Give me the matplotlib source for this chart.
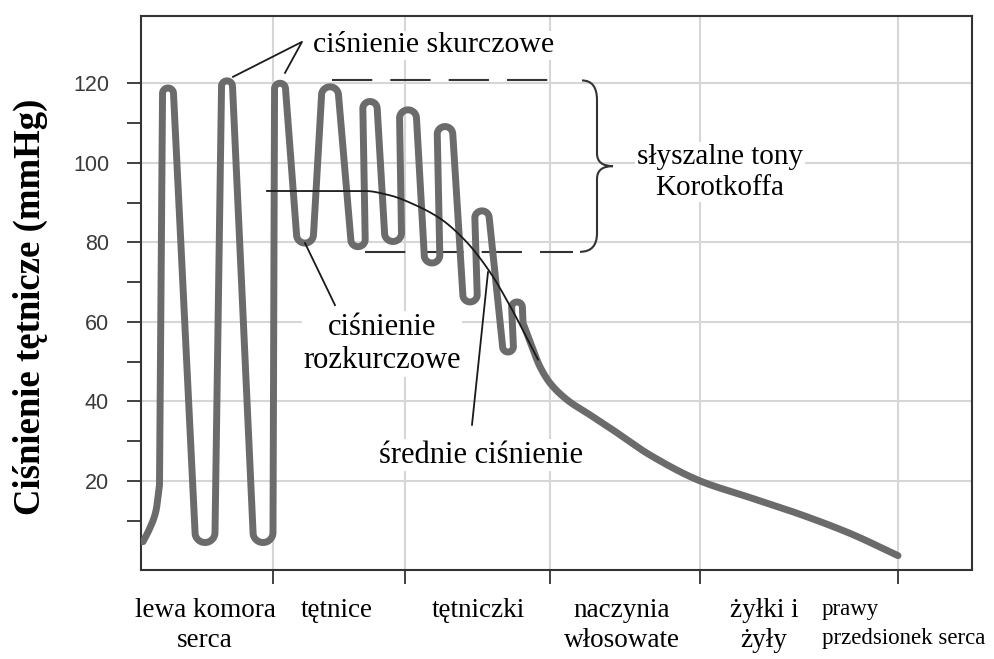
import numpy as np
import matplotlib.pyplot as plt
from matplotlib.path import Path
from matplotlib.patches import PathPatch

plt.rcParams['font.family'] = ['Liberation Serif', 'DejaVu Serif']
plt.rcParams['lines.scale_dashes'] = False

# przebieg ciśnienia wzdłuż układu krążenia (x - położenie, jednostki umowne)
wave_x = [2, 9, 15, 18.5, 27, 64, 86, 122, 139, 164, 189, 217, 229, 252,
          267, 291, 304, 329, 341, 367, 376, 382, 391, 399, 409, 426, 449,
          469, 509, 559, 609, 659, 709, 757]
wave_y = [4.7, 8.2, 12.5, 19, 118.8, 4.5, 120.6, 4.5, 120.0, 79.8, 119.1,
          78.9, 115.4, 80.2, 113.3, 74.8, 109.1, 65, 87.9, 52.4, 65, 59.7,
          53.7, 48.7, 44.6, 40.4, 36.6, 33.3, 26.5, 20, 15.8, 11.6, 6.8, 1.2]

# średnie ciśnienie
mean_x = [126, 224, 249, 274, 299, 324, 349, 369, 397]
mean_y = [92.9, 92.9, 91.8, 89.4, 86, 80.5, 72.5, 64, 50.5]

# granice odcinków układu krążenia
section_bounds = [132, 264, 409, 559, 757]
section_labels = ['lewa komora\nserca', 'tętnice', 'tętniczki',
                  'naczynia\nwłosowate', 'żyłki i\nżyły']
section_label_x = [64, 196, 337, 481, 623]

# zakres tonów Korotkoffa
korotkoff_top = 120.7
korotkoff_bottom = 77.6


def pchip(x, y, xs):
    x = np.asarray(x, float)
    y = np.asarray(y, float)
    h = np.diff(x)
    d = np.diff(y) / h
    m = np.zeros_like(y)
    for k in range(1, len(x) - 1):
        if d[k - 1] * d[k] > 0:
            w1 = 2 * h[k] + h[k - 1]
            w2 = h[k] + 2 * h[k - 1]
            m[k] = (w1 + w2) / (w1 / d[k - 1] + w2 / d[k])
    m[0] = d[0]
    m[-1] = d[-1]
    i = np.clip(np.searchsorted(x, xs) - 1, 0, len(h) - 1)
    t = (xs - x[i]) / h[i]
    h00 = 2 * t**3 - 3 * t**2 + 1
    h10 = t**3 - 2 * t**2 + t
    h01 = -2 * t**3 + 3 * t**2
    h11 = t**3 - t**2
    return h00 * y[i] + h10 * h[i] * m[i] + h01 * y[i + 1] + h11 * h[i] * m[i + 1]


def rounded_wave(ax, x, y, r_max=8.5, r_deep=10.0, r_tall=5.5):
    """Krzywa przez punkty: w ekstremach łuki o poziomej stycznej,
    między ekstremami odcinki styczne, pozostałe punkty łączy PCHIP."""
    x = np.asarray(x, float)
    y = np.asarray(y, float)
    pts = ax.transData.transform(np.column_stack([x, y]))
    n = len(pts)
    sign = np.zeros(n)
    for i in range(1, n - 1):
        if y[i] > y[i - 1] and y[i] > y[i + 1]:
            sign[i] = 1
        elif y[i] < y[i - 1] and y[i] < y[i + 1]:
            sign[i] = -1
    k = np.zeros(n)
    for i in range(1, n - 1):
        if sign[i] == 0:
            continue
        cap = r_deep if y[i] < 10 else r_max
        gaps = [abs(pts[i, 0] - pts[j, 0]) for j in (i - 1, i + 1) if sign[j] != 0]
        r = min(cap, 0.6 * min(gaps)) if gaps else cap
        swing = max(abs(y[i] - y[i - 1]), abs(y[i] - y[i + 1]))
        if sign[i] > 0 and swing > 90:
            r = min(r, r_tall)
        k[i] = sign[i] * r
    c = pts.copy()
    c[:, 1] -= k

    normals = []
    for i in range(n - 1):
        v = c[i + 1] - c[i]
        d = np.hypot(*v)
        a = np.arctan2(v[1], v[0])
        th = a + np.arccos(np.clip((k[i] - k[i + 1]) / d, -1, 1))
        normals.append(np.array([np.cos(th), np.sin(th)]))

    # ciągi punktów bez zaokrąglenia -> gładka interpolacja
    runs = {}
    i = 0
    while i < n:
        if k[i] == 0:
            j = i
            while j + 1 < n and k[j + 1] == 0:
                j += 1
            for m in range(i, j):
                runs[m] = (i, j)
            i = j + 1
        else:
            i += 1

    out = [pts[0]]
    for i in range(n - 1):
        nv = normals[i]
        if i > 0 and k[i] != 0:
            n_in = normals[i - 1]
            if k[i] > 0:
                p0, p1 = np.arctan2(n_in[1], n_in[0]), np.arctan2(nv[1], nv[0])
                while p1 > p0:
                    p1 -= 2 * np.pi
            else:
                p0, p1 = np.arctan2(-n_in[1], -n_in[0]), np.arctan2(-nv[1], -nv[0])
                while p1 < p0:
                    p1 += 2 * np.pi
            phi = np.linspace(p0, p1, 24)
            out.extend(c[i] + abs(k[i]) * np.column_stack([np.cos(phi), np.sin(phi)]))
        if i in runs:
            a, b = runs[i]
            xs = np.linspace(x[i], x[i + 1], 16)[1:]
            ys = pchip(x[a:b + 1], y[a:b + 1], xs)
            out.extend(ax.transData.transform(np.column_stack([xs, ys])))
        else:
            out.append(c[i] + k[i] * nv)
            out.append(c[i + 1] + k[i + 1] * nv)
    return ax.transData.inverted().transform(np.array(out))


fig = plt.figure(figsize=(9.95, 6.59), dpi=100)
ax = fig.add_axes([0.1417, 0.1351, 0.8352, 0.840])
ax.set_xlim(0, 831)
ax.set_ylim(-2.4, 136.8)

# siatka i osie
ax.set_axisbelow(True)
ax.set_yticks([20, 40, 60, 80, 100, 120])
ax.set_yticks(np.arange(10, 120, 20), minor=True)
ax.set_xticks(section_bounds)
ax.set_xticklabels([])
ax.grid(True, which='major', color='#d6d6d6', lw=1.5)
for s in ax.spines.values():
    s.set_color('#333333')
    s.set_linewidth(1.5)
ax.tick_params(axis='y', which='both', direction='out', length=10, width=1.3,
               color='#333333', pad=13)
ax.tick_params(axis='x', direction='out', length=10, width=1.3, color='#333333')
for lab in ax.get_yticklabels():
    lab.set_fontfamily('Liberation Sans')
    lab.set_fontsize(15.5)
    lab.set_color('#3a3a3a')

ax.set_ylabel('Ciśnienie tętnicze (mmHg)', fontsize=26.5, fontweight='bold')
ax.yaxis.set_label_coords(-0.112, 0.475)

# krzywa ciśnienia
wave = rounded_wave(ax, wave_x, wave_y)
ax.plot(wave[:, 0], wave[:, 1], color='#6b6b6b', lw=5,
        solid_capstyle='round', solid_joinstyle='round', zorder=4)

xm = np.linspace(mean_x[0], mean_x[-1], 600)
ax.plot(xm, pchip(mean_x, mean_y, xm), color='#1a1a1a', lw=1.3, zorder=5)

# nawias tonów Korotkoffa
dash = (0, (29, 13))
ax.plot([191, 416], [korotkoff_top] * 2, color='#333333', lw=1.5, ls=dash, zorder=3)
ax.plot([224, 432], [korotkoff_bottom] * 2, color='#333333', lw=1.5, ls=dash, zorder=3)
mid = (korotkoff_top + korotkoff_bottom) / 2
brace = Path(
    [(441, korotkoff_top), (456, korotkoff_top), (456, korotkoff_top - 5),
     (456, mid + 3.2),
     (456, mid), (472, mid),
     (456, mid), (456, mid - 3.2),
     (456, korotkoff_bottom + 4.7),
     (456, korotkoff_bottom), (439, korotkoff_bottom)],
    [Path.MOVETO, Path.CURVE3, Path.CURVE3, Path.LINETO,
     Path.CURVE3, Path.CURVE3, Path.CURVE3, Path.CURVE3,
     Path.LINETO, Path.CURVE3, Path.CURVE3])
ax.add_patch(PathPatch(brace, fill=False, edgecolor='#333333', lw=1.5, zorder=3))

# opisy
box = dict(facecolor='white', edgecolor='none', pad=1)
ax.text(172, 129.6, 'ciśnienie skurczowe', fontsize=21.5, ha='left', va='center',
        bbox=box, zorder=2)
ax.plot([92, 161, 144], [121.6, 130.4, 122.6], color='#1a1a1a', lw=1.3, zorder=5)

ax.text(241, 54.4, 'ciśnienie\nrozkurczowe', fontsize=22, ha='center', va='center',
        linespacing=1.2, bbox=box, zorder=2)
ax.plot([164, 194], [79.8, 64.2], color='#1a1a1a', lw=1.3, zorder=5)

ax.text(340, 26.5, 'średnie ciśnienie', fontsize=22, ha='center', va='center',
        bbox=box, zorder=2)
ax.plot([331, 347], [34.1, 72.5], color='#1a1a1a', lw=1.3, zorder=5)

ax.text(579, 97.6, 'słyszalne tony\nKorotkoffa', fontsize=21, ha='center',
        va='center', linespacing=1.25, bbox=box, zorder=2)

# podpisy odcinków pod osią
trans = ax.get_xaxis_transform()
for lx, lab in zip(section_label_x, section_labels):
    ax.text(lx, -0.05, lab, transform=trans, fontsize=19.5, ha='center', va='top',
            linespacing=1.3)
ax.text(681, -0.052, 'prawy\nprzedsionek serca', transform=trans, fontsize=16.5,
        ha='left', va='top', linespacing=1.5)

fig.savefig('out.png', dpi=100)
